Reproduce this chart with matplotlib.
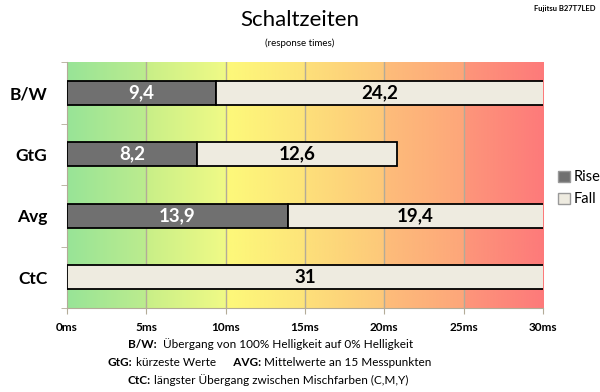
import matplotlib.pyplot as plt
import matplotlib.colors as mcolors
from matplotlib.patches import Patch
import numpy as np

plt.rcParams['font.family'] = ['Lato', 'DejaVu Sans']

# data
categories = ['B/W', 'GtG', 'Avg', 'CtC']
rise = [9.4, 8.2, 13.9, 0]
fall = [24.2, 12.6, 19.4, 31]
xmax = 30
ticks = [0, 5, 10, 15, 20, 25, 30]

# background colour per 5ms segment (left colour, right colour)
seg_colors = [('#98e497', '#bcec8e'), ('#c8ef88', '#f0fa86'), ('#fdf97a', '#fde47a'),
              ('#fde07a', '#fdc87a'), ('#fdbd7a', '#fda67a'), ('#fd967a', '#fd7a7a')]

rise_col = '#707070'
fall_col = '#eeebe0'
grid_col = '#b3ab98'

fig = plt.figure(figsize=(6, 3.92), dpi=100)
ax = fig.add_axes([67 / 600, 1 - 308 / 392, 476 / 600, 246 / 392])

# gradient background
for i, (c0, c1) in enumerate(seg_colors):
    a = np.array(mcolors.to_rgb(c0))
    b = np.array(mcolors.to_rgb(c1))
    t = np.linspace(0, 1, 64)[:, None]
    img = (a * (1 - t) + b * t)[None, :, :]
    ax.imshow(img, extent=(ticks[i], ticks[i + 1], 3.5, -0.5), aspect='auto',
              zorder=0, interpolation='bilinear')

for x in ticks[1:-1]:
    ax.axvline(x, color=grid_col, lw=1, zorder=1)

y = np.arange(len(categories))
h = 0.39
ax.barh(y, rise, height=h, color=rise_col, edgecolor='black', lw=1.3, zorder=3)
ax.barh(y, fall, left=rise, height=h, color=fall_col, edgecolor='black', lw=1.3, zorder=3)

for i in range(len(categories)):
    if rise[i] > 0:
        ax.text(rise[i] / 2, i, f"{rise[i]:g}".replace('.', ','), ha='center', va='center',
                color='white', fontsize=13.5, fontweight='bold', zorder=4)
    end = min(rise[i] + fall[i], xmax)
    ax.text((rise[i] + end) / 2, i, f"{fall[i]:g}".replace('.', ','), ha='center', va='center',
            color='black', fontsize=13.5, fontweight='bold', zorder=4)

ax.set_xlim(0, xmax)
ax.set_ylim(3.5, -0.5)
ax.set_xticks(ticks)
ax.set_xticklabels([f"{t}ms" for t in ticks], fontsize=8.5, fontweight='bold')
ax.set_yticks(y)
ax.set_yticklabels(categories, fontsize=12.5, fontweight='bold')
ax.set_yticks([-0.5, 0.5, 1.5, 2.5, 3.5], minor=True)
ax.tick_params(axis='y', which='major', length=0, pad=14)
ax.tick_params(axis='y', which='minor', length=4, color=grid_col)
ax.tick_params(axis='x', length=4, color=grid_col, pad=6)
for s in ['top', 'right']:
    ax.spines[s].set_visible(False)
for s in ['left', 'bottom']:
    ax.spines[s].set_color(grid_col)

fig.text(0.5, 1 - 20 / 392, 'Schaltzeiten', ha='center', va='center', fontsize=16)
fig.text(0.5, 1 - 43 / 392, '(response times)', ha='center', va='center', fontsize=7)
fig.text(0.993, 1 - 9 / 392, 'Fujitsu B27T7LED', ha='right', va='center', fontsize=5.5,
         fontweight='bold')

fig.legend(handles=[Patch(facecolor=rise_col, edgecolor='#999999', label='Rise'),
                    Patch(facecolor=fall_col, edgecolor='#999999', label='Fall')],
           loc='center left', bbox_to_anchor=(0.908, 0.52), frameon=False, fontsize=10.5,
           handlelength=0.8, handleheight=0.8, handletextpad=0.3, labelspacing=0.55)


# footnotes, bold key followed by normal text
def footnote(parts, x, yy):
    t = fig.text(x / 600, 1 - yy / 392, parts[0][0], ha='left', va='baseline',
                 fontsize=8.5, fontweight=parts[0][1])
    for txt, w in parts[1:]:
        t = ax.annotate(txt, xy=(1, 0), xycoords=t, va='bottom', ha='left',
                        fontsize=8.5, fontweight=w, annotation_clip=False)


footnote([('B/W:', 'bold'), ('  Übergang von 100% Helligkeit auf 0% Helligkeit', 'normal')], 128, 348)
footnote([('GtG:', 'bold'), (' kürzeste Werte', 'normal'), ('      AVG:', 'bold'),
          (' Mittelwerte an 15 Messpunkten', 'normal')], 108, 366)
footnote([('CtC:', 'bold'), (' längster Übergang zwischen Mischfarben (C,M,Y)', 'normal')], 128, 384)

fig.savefig('out.png', dpi=100)
